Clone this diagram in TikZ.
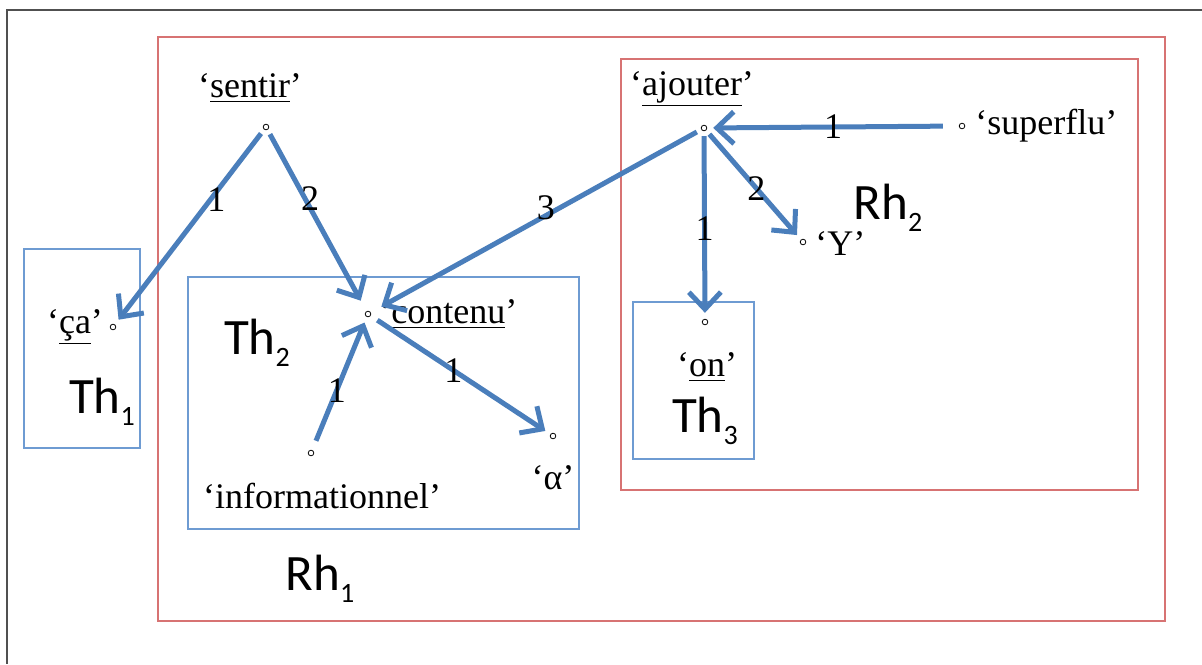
\documentclass[tikz,border=0pt]{standalone}
\usepackage{fontspec}
\setmainfont{Liberation Serif}
\newfontfamily\thfont{Carlito}
\usetikzlibrary{arrows.meta}
\definecolor{arrblue}{RGB}{74,126,187}
\definecolor{boxblue}{RGB}{110,155,210}
\definecolor{boxred}{RGB}{215,115,115}
\definecolor{framegray}{RGB}{80,80,80}
\newcommand{\thlab}[2]{#1\raisebox{-0.24em}{\fontsize{14}{14}\selectfont #2}}
\begin{document}
\begin{tikzpicture}[x=0.5pt,y=-0.5pt,
  dot/.style={circle,draw,inner sep=0pt,minimum size=2.8pt,line width=0.4pt},
  lbl/.style={font=\fontsize{18}{21}\selectfont,inner sep=0pt},
  num/.style={font=\fontsize{18}{21}\selectfont,inner sep=0pt},
  big/.style={font=\thfont\fontsize{25.5}{28}\selectfont,inner sep=0pt},
  redbox/.style={draw=boxred,line width=1pt},
  bluebox/.style={draw=boxblue,line width=0.9pt},
  rel/.style={draw=arrblue,line width=2.5pt,
    -{Straight Barb[length=8.5pt,width=16pt]},shorten <=2.5pt,shorten >=3pt}]
\useasboundingbox (0,0) rectangle (1202,664);
% outer frame
\draw[framegray,line width=1pt] (1202,10) -- (7,10) -- (7,664);
% boxes
\draw[redbox] (158,37) rectangle (1165,621);
\draw[redbox] (621,59) rectangle (1138,490);
\draw[bluebox] (24,249) rectangle (140,448);
\draw[bluebox] (188,277) rectangle (579,529);
\draw[bluebox] (633,302) rectangle (754,459);
% dots
\node[dot] (sentir) at (266,127) {};
\node[dot] (ca) at (113,327) {};
\node[dot] (contenu) at (368,314) {};
\node[dot] (info) at (311,453) {};
\node[dot] (alpha) at (553,436) {};
\node[dot] (ajouter) at (704,128) {};
\node[dot] (superflu) at (962,126) {};
\node[dot] (Y) at (803,242) {};
\node[dot] (on) at (705,322) {};
% word labels
\node[lbl] (sentirL) at (250,88) {‘\underline{sentir}’};
\node[lbl] (caL) at (75,327) {‘\underline{ça}’};
\node[lbl,anchor=west] (contenuL) at (379,314) {‘\underline{contenu}’};
\node[lbl] (infoL) at (322,496) {‘informationnel’};
\node[lbl] (alphaL) at (553,478) {‘α’};
\node[lbl] (ajouterL) at (692,89) {‘\underline{ajouter}’};
\node[lbl,anchor=west] (superfluL) at (975,126) {‘superflu’};
\node[lbl,anchor=west] (YL) at (815,244) {‘Y’};
\node[lbl] (onL) at (707,367) {‘\underline{on}’};
% big labels
\node[big] (Th1) at (102,402) {\thlab{Th}{1}};
\node[big] (Th2) at (257,343) {\thlab{Th}{2}};
\node[big] (Th3) at (705,421) {\thlab{Th}{3}};
\node[big] (Rh1) at (320,579) {\thlab{Rh}{1}};
\node[big] (Rh2) at (888,208) {\thlab{Rh}{2}};
% relations
\draw[rel] (sentir) -- node[num,pos=0.36,xshift=3pt] {1} (ca);
\draw[rel,shorten >=6pt] (sentir) -- node[num,pos=0.38,xshift=2.5pt] {2} (contenu);
\draw[rel,shorten >=6pt] (ajouter) -- node[num,pos=0.47,yshift=4pt] {3} (contenu);
\draw[rel,shorten <=8pt] (superflu) -- node[num,pos=0.5] {1} (ajouter);
\draw[rel] (ajouter) -- node[num,pos=0.53] {2} (Y);
\draw[rel] (ajouter) -- node[num,pos=0.52] {1} (on);
\draw[rel,shorten <=5pt] (info) -- node[num,pos=0.45] {1} (contenu);
\draw[rel,shorten <=4pt] (contenu) -- node[num,pos=0.46] {1} (alpha);
\end{tikzpicture}
\end{document}
